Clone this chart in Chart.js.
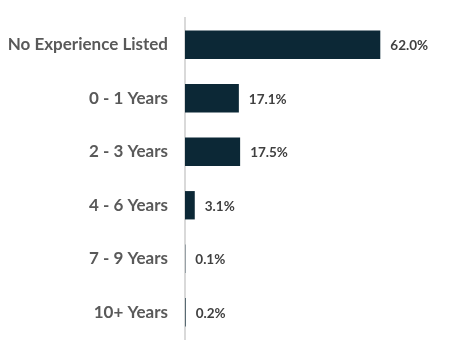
<!DOCTYPE html>
<html>
<head>
<meta charset="utf-8">
<script src="https://cdn.jsdelivr.net/npm/chart.js@4"></script>
<style>
html,body{margin:0;padding:0;background:#fff;}
#wrap{width:468px;height:357px;position:relative;}
</style>
</head>
<body>
<div id="wrap"><canvas id="c"></canvas></div>
<script>
const categories = ["No Experience Listed", "0 - 1 Years", "2 - 3 Years", "4 - 6 Years", "7 - 9 Years", "10+ Years"];
const values = [62.0, 17.1, 17.5, 3.1, 0.1, 0.2];
const valueLabels = ["62.0%", "17.1%", "17.5%", "3.1%", "0.1%", "0.2%"];

const dataLabelPlugin = {
  id: 'dataLabels',
  afterDatasetsDraw(chart) {
    const ctx = chart.ctx;
    const meta = chart.getDatasetMeta(0);
    ctx.save();
    ctx.font = 'bold 13.5px Lato';
    ctx.fillStyle = '#404040';
    ctx.textAlign = 'left';
    ctx.textBaseline = 'middle';
    meta.data.forEach((bar, i) => {
      ctx.fillText(valueLabels[i], bar.x + 10, bar.y + 1);
    });
    ctx.restore();
  }
};

new Chart(document.getElementById('c'), {
  type: 'bar',
  data: {
    labels: categories,
    datasets: [{
      data: values,
      backgroundColor: '#0c2836',
      borderWidth: 0,
      barPercentage: 0.53,
      categoryPercentage: 1.0
    }]
  },
  options: {
    indexAxis: 'y',
    responsive: true,
    maintainAspectRatio: false,
    animation: false,
    layout: { padding: { top: 18, bottom: 18, left: 0, right: 31 } },
    plugins: { legend: { display: false }, tooltip: { enabled: false } },
    scales: {
      x: {
        min: 0, max: 80,
        display: false,
        grid: { display: false }
      },
      y: {
        grid: { display: false, drawTicks: false },
        border: { display: true, color: '#d9d9d9', width: 2 },
        ticks: {
          color: '#595959',
          font: { family: 'Lato', size: 17, weight: 'bold' },
          padding: 17
        },
        afterFit(scale) {
          scale.width = 185;
          scale.paddingTop = 0;
          scale.paddingBottom = 0;
        }
      }
    }
  },
  plugins: [dataLabelPlugin]
});
</script>
</body>
</html>
